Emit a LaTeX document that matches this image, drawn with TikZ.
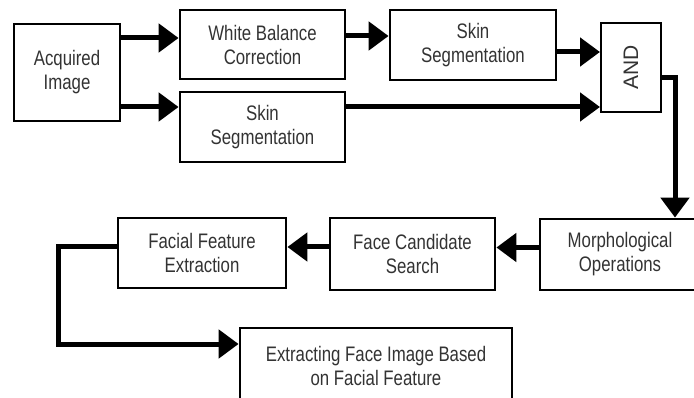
\documentclass[tikz,border=0pt]{standalone}
\usepackage{fontspec}
\setmainfont{Liberation Sans}[FakeStretch=0.8]
\newfontfamily\andfont{Liberation Sans}
\usepackage{tikz}
\usetikzlibrary{arrows.meta, positioning, calc}
\definecolor{tinta}{HTML}{333333}

\begin{document}
\begin{tikzpicture}[x=1pt, y=-1pt,
        font=\fontsize{21}{24}\selectfont,
        bx/.style={draw=black, line width=2.8pt, fill=white, text=tinta,
            align=center, inner sep=0pt},
        fl/.style={-{Triangle[length=20pt, width=28pt]}, line width=5pt}]
    \useasboundingbox (0,0) rectangle (694,398);
    \clip (0,0) rectangle (694,398);
    % boxes
    \node[bx, minimum width=106pt, minimum height=97pt] (acq) at (67,72.5) {Acquired\\Image};
    \node[bx, minimum width=165pt, minimum height=69pt] (wbc) at (262.5,44.5) {White Balance\\Correction};
    \node[bx, minimum width=166pt, minimum height=70pt] (skA) at (473,45) {Skin\\Segmentation};
    \node[bx, minimum width=165pt, minimum height=70pt] (skB) at (262.5,127) {Skin\\Segmentation};
    \node[bx, line width=2pt, minimum width=60pt, minimum height=89pt] (and) at (631,67.5) {\rotatebox{90}{\andfont AND}};
    \node[bx, minimum width=160pt, minimum height=71pt] (mor) at (620,254.5) {Morphological\\Operations};
    \node[bx, minimum width=165pt, minimum height=72pt] (fcs) at (412.5,254) {Face Candidate\\Search};
    \node[bx, minimum width=168pt, minimum height=70pt] (ffe) at (202,253) {Facial Feature\\Extraction};
    \node[bx, minimum width=272pt, minimum height=76pt] (ext) at (376,366) {Extracting Face Image Based\\on Facial Feature};
    % connectors
    \coordinate (a1) at ([yshift=34.5pt]acq.east);
    \coordinate (a2) at ([yshift=-34.5pt]acq.east);
    \coordinate (a3) at ([yshift=8.5pt]wbc.east);
    \coordinate (a4) at ([yshift=15.5pt]and.west);
    \coordinate (a5) at ([yshift=20pt]skB.east);
    \coordinate (a6) at ([yshift=-10.5pt]and.east);
    \coordinate (a7) at ([yshift=7pt]mor.west);
    \coordinate (a8) at ([yshift=7pt]fcs.west);
    \coordinate (a9) at ([yshift=22pt]ext.west);
    \draw[fl] (a1) -- (a1 -| wbc.west);
    \draw[fl] (a2) -- (a2 -| skB.west);
    \draw[fl] (a3) -- (a3 -| skA.west);
    \draw[fl] (a4 -| skA.east) -- (a4);
    \draw[fl] (a5) -- (a5 -| and.west);
    \draw[fl] (a6) -- ++(13,0) coordinate (k6) -- (k6 |- mor.north);
    \draw[fl] (a7) -- (a7 -| fcs.east);
    \draw[fl] (a8) -- (a8 -| ffe.east);
    \draw[fl] ([yshift=6pt]ffe.west) -- ++(-58,0) |- (a9);
\end{tikzpicture}
\end{document}
